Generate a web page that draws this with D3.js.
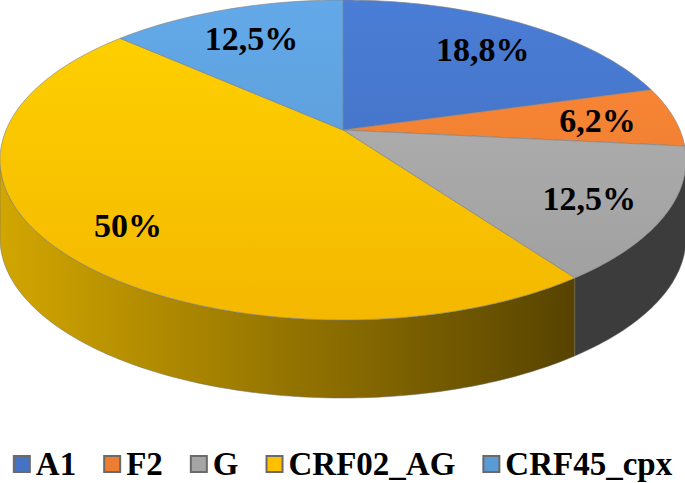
<html>
<head>
<meta charset="utf-8">
<title>3D pie</title>
<script src="https://cdnjs.cloudflare.com/ajax/libs/d3/7.8.5/d3.min.js"></script>
<style>
  body { margin: 0; background: #fff; }
  text { font-family: "Liberation Serif", "Times New Roman", serif; font-weight: bold; }
</style>
</head>
<body>
<svg width="685" height="483"></svg>
<script>
// data
var categories = ["A1", "F2", "G", "CRF02_AG", "CRF45_cpx"];
var values = [18.8, 6.2, 12.5, 50, 12.5];
var labels = ["18,8%", "6,2%", "12,5%", "50%", "12,5%"];
var colors = ["#4472c4", "#ed7d31", "#a5a5a5", "#ffc000", "#5b9bd5"];

var svg = d3.select("svg");
var W = 685;

// geometry of the tilted disc
var cx = 343, cy = 160, rx = 343, ry = 160;
var apexY = 130;      // where the slices meet (perspective shifts it up)
var depth = 78;       // thickness of the disc
var deg = Math.PI / 180;
// perspective bends the angles a little: slice angle -> angle on the ellipse
var warp = d3.scaleLinear()
  .domain([0, 90, 180, 270, 360].map(function(v) { return v * deg; }))
  .range([0, 85, 190, 279, 360].map(function(v) { return v * deg; }));

function rim(a, dy) {
  dy = dy || 0;
  return [cx + rx * Math.sin(a), cy + dy - ry * Math.cos(a)];
}
function arcPts(a0, a1, dy) {
  var n = Math.max(2, Math.ceil(Math.abs(a1 - a0) / 0.02));
  return d3.range(n + 1).map(function(i) { return rim(a0 + (a1 - a0) * i / n, dy); });
}

var pie = d3.pie().sort(null).startAngle(0).endAngle(2 * Math.PI);
var arcs = pie(values);
arcs.forEach(function(d) {
  d.p0 = warp(d.startAngle);
  d.p1 = warp(d.endAngle);
  d.pm = warp((d.startAngle + d.endAngle) / 2);
});

var defs = svg.append("defs");

// top gradients (lighter at the far side)
arcs.forEach(function(d, i) {
  var c = d3.color(colors[i]);
  var g = defs.append("linearGradient").attr("id", "top" + i)
    .attr("gradientUnits", "userSpaceOnUse")
    .attr("x1", 0).attr("y1", 0).attr("x2", 0).attr("y2", 320);
  g.append("stop").attr("offset", 0).attr("stop-color", c.brighter(0.25));
  g.append("stop").attr("offset", 1).attr("stop-color", c.darker(0.12));
});

// side gradients, dark towards the right
var sideCols = {
  2: ["#474747", "#3c3c3c"],
  3: ["#d2a600", "#574300"]
};
arcs.forEach(function(d, i) {
  var base = sideCols[i] || [d3.color(colors[i]).darker(0.6), d3.color(colors[i]).darker(1.6)];
  var g = defs.append("linearGradient").attr("id", "side" + i)
    .attr("gradientUnits", "userSpaceOnUse")
    .attr("x1", 0).attr("y1", 0).attr("x2", 575).attr("y2", 0);
  g.append("stop").attr("offset", 0).attr("stop-color", base[0]);
  g.append("stop").attr("offset", 1).attr("stop-color", base[1]);
});

var line = d3.line();

// side walls: only the front half of the ellipse (90..270 deg) is seen
var sides = svg.append("g");
arcs.forEach(function(d, i) {
  var a0 = Math.max(d.p0, Math.PI / 2);
  var a1 = Math.min(d.p1, 3 * Math.PI / 2);
  if (a1 <= a0) return;
  var top = arcPts(a0, a1, 0);
  var bot = arcPts(a1, a0, depth);
  sides.append("path")
    .attr("d", line(top.concat(bot)) + "Z")
    .attr("fill", "url(#side" + i + ")")
    .attr("stroke", "#6b6b6b")
    .attr("stroke-width", 0.5);
});

// top faces
var tops = svg.append("g");
arcs.forEach(function(d, i) {
  var pts = [[cx, apexY]].concat(arcPts(d.p0, d.p1, 0));
  tops.append("path")
    .attr("d", line(pts) + "Z")
    .attr("fill", "url(#top" + i + ")")
    .attr("stroke", "#7f7f7f")
    .attr("stroke-width", 0.6)
    .attr("stroke-linejoin", "round");
});

// data labels
var labelFrac = 0.77;
svg.append("g").selectAll("text")
  .data(arcs)
  .enter().append("text")
  .attr("x", function(d) { return cx + (rim(d.pm)[0] - cx) * labelFrac; })
  .attr("y", function(d) { return apexY + (rim(d.pm)[1] - apexY) * labelFrac + 12; })
  .attr("text-anchor", "middle")
  .style("font-size", "34px")
  .attr("fill", "#000")
  .text(function(d, i) { return labels[i]; });

// legend
var sq = 18, gapText = 5, gapItem = 27, legendY = 475;
var leg = svg.append("g");
var items = leg.selectAll("g").data(categories).enter().append("g");
items.append("rect")
  .attr("width", sq - 2).attr("height", sq - 2)
  .attr("fill", function(d, i) { return colors[i]; })
  .attr("stroke", "#6a6a6a").attr("stroke-width", 2);
items.append("text")
  .attr("x", sq + gapText)
  .attr("y", 0)
  .style("font-size", "33px")
  .text(function(d) { return d; });
var widths = [];
items.each(function() {
  var w = sq + gapText + d3.select(this).select("text").node().getComputedTextLength();
  widths.push(w);
});
var total = d3.sum(widths) + gapItem * (categories.length - 1);
var x0 = (W - total) / 2;
items.attr("transform", function(d, i) {
  var x = x0 + d3.sum(widths.slice(0, i)) + gapItem * i;
  return "translate(" + x + "," + legendY + ")";
});
items.select("rect").attr("x", 1).attr("y", -19);
</script>
</body>
</html>
